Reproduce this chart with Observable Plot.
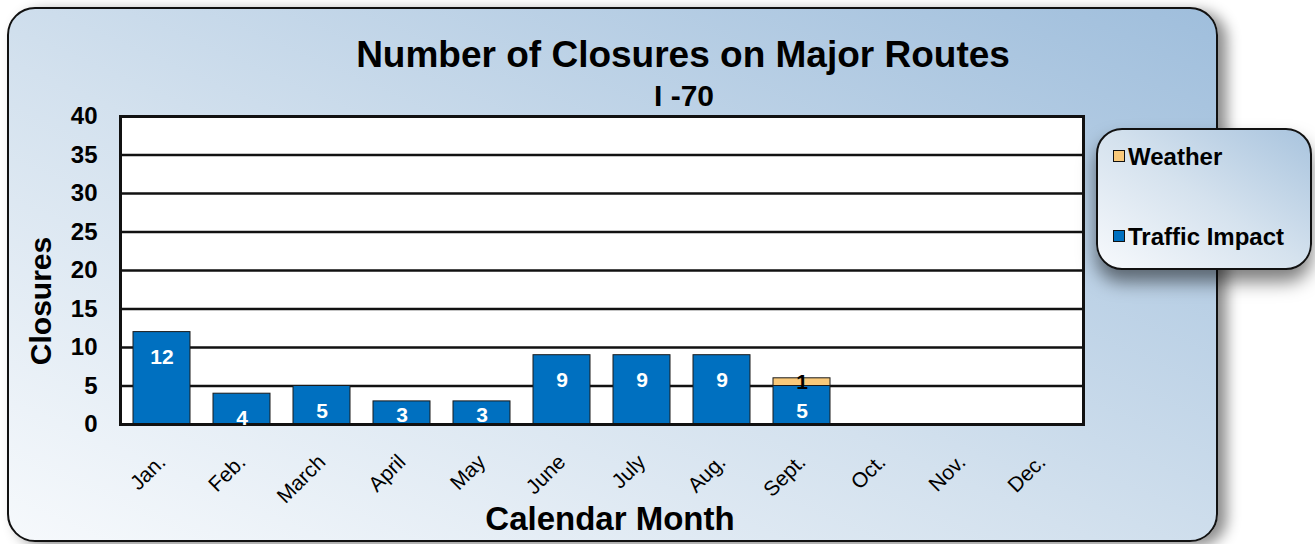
<!DOCTYPE html>
<html>
<head>
<meta charset="utf-8">
<script src="https://cdn.jsdelivr.net/npm/d3@7"></script>
<script src="https://cdn.jsdelivr.net/npm/@observablehq/plot@0.6"></script>
<style>
  html, body { margin: 0; padding: 0; background: #ffffff; }
  #wrap { position: relative; width: 1315px; height: 544px; overflow: hidden; background: #ffffff;
          font-family: "Liberation Sans", Arial, sans-serif; }
  #panel { position: absolute; left: 7px; top: 7px; width: 1211px; height: 535px; box-sizing: border-box;
           border: 2px solid #111; border-radius: 28px;
           background: linear-gradient(to top right, #f6f9fc 0%, #d3e1ee 45%, #9fbedc 100%);
           box-shadow: 9px 4px 14px rgba(0,0,0,0.45); }
  #chart { position: absolute; left: 0; top: 0; }
  .t { position: absolute; white-space: nowrap; font-weight: bold; color: #000; line-height: 1; }
  #title { left: 683px; top: 36px; font-size: 37px; transform: translateX(-50%); }
  #subtitle { left: 684px; top: 81px; font-size: 30px; transform: translateX(-50%); }
  #ylab { left: 41px; top: 301px; font-size: 30px; transform: translate(-50%, -50%) rotate(-90deg); }
  #xlab { left: 610px; top: 502px; font-size: 33px; transform: translateX(-50%); }
  #legend { position: absolute; left: 1096px; top: 128px; width: 216px; height: 142px; box-sizing: border-box;
            border: 2px solid #111; border-radius: 26px;
            background: linear-gradient(to top right, #f7f9fc 0%, #d5e2ee 50%, #a9c4de 100%);
            box-shadow: 0px 12px 18px rgba(0,0,0,0.5); }
  .item { position: absolute; left: 15px; font-size: 24px; font-weight: bold; line-height: 1; white-space: nowrap; }
  .sw { display: inline-block; width: 10px; height: 10px; border: 1px solid #111; margin-right: 3px; vertical-align: 3px; }
</style>
</head>
<body>
<div id="wrap">
  <div id="panel"></div>
  <div id="chart"></div>
  <div class="t" id="title">Number of Closures on Major Routes</div>
  <div class="t" id="subtitle">I -70</div>
  <div class="t" id="ylab">Closures</div>
  <div class="t" id="xlab">Calendar Month</div>
  <div id="legend"></div>
</div>
<script>
const months = ["Jan.", "Feb.", "March", "April", "May", "June", "July", "Aug.", "Sept.", "Oct.", "Nov.", "Dec."];
const trafficImpact = [12, 4, 5, 3, 3, 9, 9, 9, 5, 0, 0, 0];
const weather = [0, 0, 0, 0, 0, 0, 0, 0, 1, 0, 0, 0];
const seriesNames = ["Weather", "Traffic Impact"];
const seriesColors = ["#f9c97a", "#0070c0"];
const yTicks = [0, 5, 10, 15, 20, 25, 30, 35, 40];

const rows = [];
months.forEach((m, i) => {
  rows.push({month: m, type: "Traffic Impact", value: trafficImpact[i]});
  rows.push({month: m, type: "Weather", value: weather[i]});
});
const data = rows.filter(d => d.value > 0);
const stackOrder = ["Traffic Impact", "Weather"];
const trafficRows = data.filter(d => d.type === "Traffic Impact");

const chart = Plot.plot({
  width: 1315,
  height: 544,
  marginLeft: 120,
  marginRight: 232,
  marginTop: 116,
  marginBottom: 120,
  style: {background: "transparent", fontFamily: "'Liberation Sans', Arial, sans-serif", color: "#000", overflow: "visible"},
  x: {type: "band", domain: months, paddingInner: 0.29, paddingOuter: 0.145},
  y: {domain: [0, 40]},
  color: {domain: seriesNames, range: seriesColors},
  marks: [
    Plot.frame({fill: "white", stroke: null}),
    Plot.ruleY(yTicks, {stroke: "#111", strokeWidth: 2.4}),
    Plot.barY(data, Plot.stackY({x: "month", y: "value", fill: "type", z: "type", order: stackOrder, stroke: "#1a1a1a", strokeWidth: 1})),
    Plot.frame({stroke: "#111", strokeWidth: 3}),
    Plot.text(trafficRows.filter(d => d.value >= 4), {x: "month", y: "value", text: d => String(d.value), dy: 25, fill: "white", fontSize: 21, fontWeight: "bold"}),
    Plot.text(trafficRows.filter(d => d.value < 4), {x: "month", y: "value", text: d => String(d.value), dy: 14, fill: "white", fontSize: 21, fontWeight: "bold"}),
    Plot.text(data, Plot.stackY({x: "month", y: "value", z: "type", order: stackOrder, text: d => d.type === "Weather" ? String(d.value) : null, fill: "#000", fontSize: 21, fontWeight: "bold"})),
    Plot.axisY({ticks: yTicks, tickSize: 0, tickPadding: 23, fontSize: 24, fontWeight: "bold", label: null}),
    Plot.axisX({tickSize: 0, tickPadding: 34, tickRotate: -45, fontSize: 21, label: null})
  ]
});
document.getElementById("chart").appendChild(chart);

const legend = document.getElementById("legend");
[["Weather", 15], ["Traffic Impact", 95]].forEach(([name, top]) => {
  const div = document.createElement("div");
  div.className = "item";
  div.style.top = top + "px";
  const sw = document.createElement("span");
  sw.className = "sw";
  sw.style.background = seriesColors[seriesNames.indexOf(name)];
  div.appendChild(sw);
  div.appendChild(document.createTextNode(name));
  legend.appendChild(div);
});
</script>
</body>
</html>
